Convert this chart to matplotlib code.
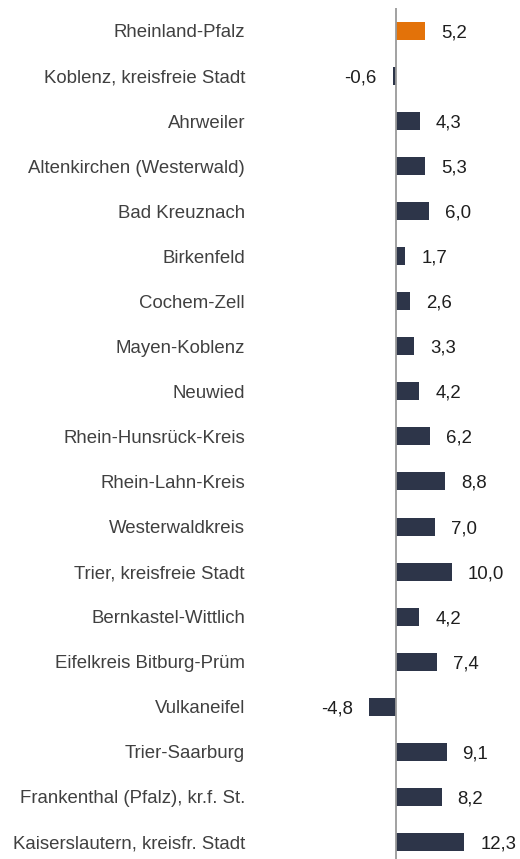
import matplotlib.pyplot as plt
from matplotlib.transforms import blended_transform_factory

plt.rcParams['font.family'] = ['Liberation Sans', 'DejaVu Sans']

regions = [
    "Rheinland-Pfalz", "Koblenz, kreisfreie Stadt", "Ahrweiler",
    "Altenkirchen (Westerwald)", "Bad Kreuznach", "Birkenfeld", "Cochem-Zell",
    "Mayen-Koblenz", "Neuwied", "Rhein-Hunsrück-Kreis", "Rhein-Lahn-Kreis",
    "Westerwaldkreis", "Trier, kreisfreie Stadt", "Bernkastel-Wittlich",
    "Eifelkreis Bitburg-Prüm", "Vulkaneifel", "Trier-Saarburg",
    "Frankenthal (Pfalz), kr.f. St.", "Kaiserslautern, kreisfr. Stadt",
]
values = [5.2, -0.6, 4.3, 5.3, 6.0, 1.7, 2.6, 3.3, 4.2, 6.2, 8.8, 7.0,
          10.0, 4.2, 7.4, -4.8, 9.1, 8.2, 12.3]

W, H = 520, 859
zero_px = 396
px_per_unit = 5.55

fig = plt.figure(figsize=(W / 100, H / 100), dpi=100)
ax = fig.add_axes([0, 0, 1, (H - 8) / H])

colors = ["#E37209"] + ["#2D3549"] * (len(values) - 1)
ypos = list(range(len(values)))
ax.barh(ypos, values, height=0.4, color=colors, zorder=2)
ax.axvline(0, color="#9a9a9a", lw=1.3, zorder=3)

ax.set_xlim(-zero_px / px_per_unit, (W - zero_px) / px_per_unit)
ax.set_ylim(len(values) - 1 + 0.38, -0.51)
ax.axis("off")

lab_tr = blended_transform_factory(fig.transFigure, ax.transData)
for y, name, v in zip(ypos, regions, values):
    ax.text(245 / W, y, name, transform=lab_tr, ha="right", va="center_baseline",
            fontsize=13.4, color="#404040")
    txt = f"{v:.1f}".replace(".", ",")
    off = 11.5 if v >= 0 else -11.5
    ax.annotate(txt, (v, y), xytext=(off, 0), textcoords="offset points",
                ha="left" if v >= 0 else "right", va="center_baseline",
                fontsize=13.4, color="#1e1e1e")

fig.savefig("out.png", dpi=100)
